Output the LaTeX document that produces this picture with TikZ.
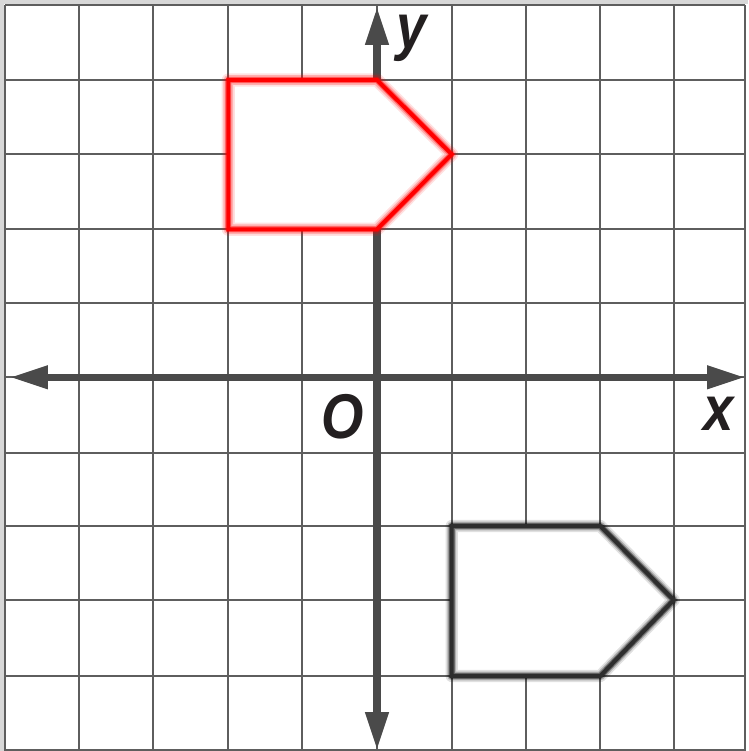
\documentclass[tikz,border=0pt]{standalone}
\usepackage{fontspec}
\setmainfont{Liberation Sans}
\usetikzlibrary{arrows.meta}
\definecolor{gridc}{HTML}{5E5E5E}
\definecolor{axisc}{HTML}{4A4A4A}
\definecolor{edgec}{HTML}{D8D8D8}
\definecolor{txtc}{HTML}{231F20}
\definecolor{shapered}{HTML}{FF0000}
\definecolor{shapedark}{HTML}{2E2E2E}
\tikzset{
  gridline/.style={draw=gridc, line width=1pt},
  axisline/.style={draw=axisc, line width=4pt, -{Triangle[length=21.5pt,width=12.5pt]}},
  lbl/.style={text=txtc, font=\fontsize{36}{36}\selectfont\bfseries\itshape, inner sep=0pt, anchor=base, xscale=0.86},
}
\begin{document}
\begin{tikzpicture}[x=0.02cm, y=-0.02cm]
\useasboundingbox (0,0) rectangle (748,751);
\fill[white] (0,0) rectangle (748,751);
\fill[edgec] (0,0) rectangle (748,4);
\fill[edgec] (0,0) rectangle (4,751);
% grid
\foreach \gx in {5,78.7,152.7,228.3,302.3,377,451.7,526,600.3,673.7,745.3}
  \draw[gridline] (\gx,5) -- (\gx,751);
\foreach \gy in {5,80,154.3,229.3,303.3,377.3,452.7,526,600,676,750}
  \draw[gridline] (5,\gy) -- (745.3,\gy);
% axes
\coordinate (xl) at (10,377.3);
\coordinate (xr) at (745,377.3);
\coordinate (yt) at (377,7);
\coordinate (yb) at (377,750);
\draw[axisline] (377,377.3) -- (xr);
\draw[axisline] (377,377.3) -- (xl);
\draw[axisline] (377,377.3) -- (yt);
\draw[axisline] (377,377.3) -- (yb);
% red figure
\coordinate (r1) at (228.3,80);
\coordinate (r2) at (377,80);
\coordinate (r3) at (451.7,154.3);
\coordinate (r4) at (377,229.3);
\coordinate (r5) at (228.3,229.3);
\fill[white] (r1) -- (r2) -- (r3) -- (r4) -- (r5) -- cycle;
\draw[shapered, opacity=0.12, line width=7.5pt, line join=round] (r1) -- (r2) -- (r3) -- (r4) -- (r5) -- cycle;
\draw[shapered, opacity=0.22, line width=5.5pt, line join=round] (r1) -- (r2) -- (r3) -- (r4) -- (r5) -- cycle;
\draw[shapered, opacity=0.40, line width=3.6pt, line join=round] (r1) -- (r2) -- (r3) -- (r4) -- (r5) -- cycle;
\draw[shapered, line width=2.3pt, line join=miter] (r1) -- (r2) -- (r3) -- (r4) -- (r5) -- cycle;
% dark figure
\coordinate (b1) at (451.7,526);
\coordinate (b2) at (600.3,526);
\coordinate (b3) at (673.7,600);
\coordinate (b4) at (600.3,676);
\coordinate (b5) at (451.7,676);
\fill[white] (b1) -- (b2) -- (b3) -- (b4) -- (b5) -- cycle;
\begin{scope}[shift={(1.5,1.5)}]
\draw[black, opacity=0.12, line width=7pt, line join=round] (b1) -- (b2) -- (b3) -- (b4) -- (b5) -- cycle;
\draw[black, opacity=0.22, line width=5pt, line join=round] (b1) -- (b2) -- (b3) -- (b4) -- (b5) -- cycle;
\draw[black, opacity=0.38, line width=3.5pt, line join=round] (b1) -- (b2) -- (b3) -- (b4) -- (b5) -- cycle;
\end{scope}
\draw[shapedark, line width=2.3pt, line join=miter] (b1) -- (b2) -- (b3) -- (b4) -- (b5) -- cycle;
% labels
\node[lbl] (ylab) at (412,48) {y};
\node[lbl] (xlab) at (719,430) {x};
\node[lbl] (olab) at (343,438) {O};
\end{tikzpicture}
\end{document}
